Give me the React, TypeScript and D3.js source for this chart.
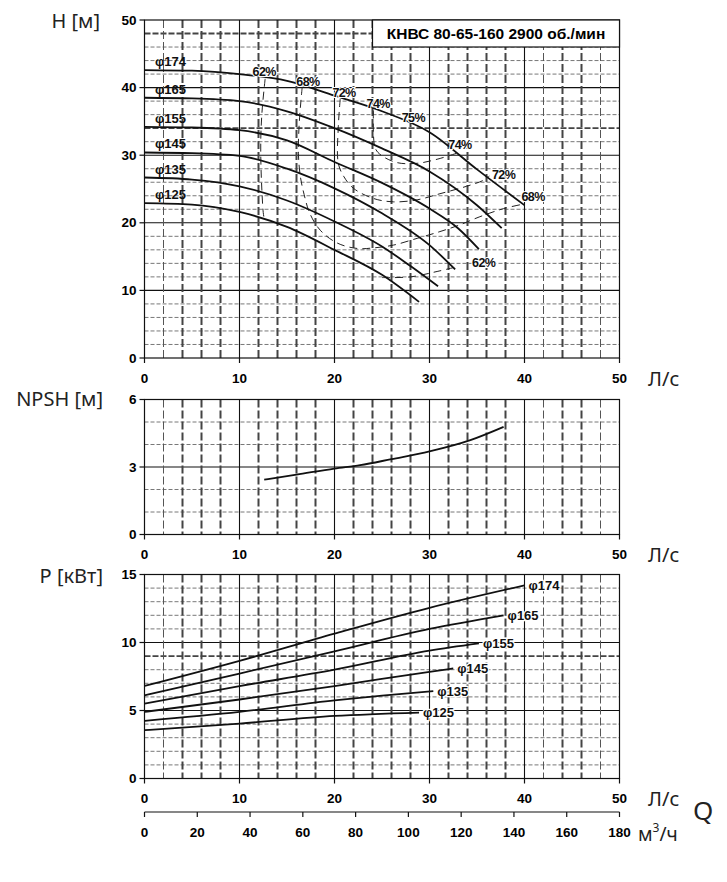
import React from "react"
import * as d3 from "d3"

// ---- data ----
const title = "КНВС 80-65-160 2900 об./мин"
const diameters = ["174", "165", "155", "145", "135", "125"]

// H(Q) head curves, [Q л/с, H м]
const headCurves: [number, number][][] = [
  [[0, 42.6], [5, 42.5], [10, 42.0], [15, 41.0], [20, 38.8], [25, 36.5], [30, 33.4], [35, 27.9], [40, 22.6]],
  [[0, 38.5], [5, 38.4], [10, 38.0], [15, 36.5], [20, 34.0], [25, 31.0], [30, 27.6], [35, 22.6], [37.6, 19.2]],
  [[0, 34.2], [5, 34.1], [10, 33.7], [15, 32.2], [20, 29.0], [25, 25.9], [30, 22.1], [33, 19.2], [35.2, 16.1]],
  [[0, 30.4], [5, 30.3], [10, 29.9], [15, 28.0], [20, 25.1], [25, 21.4], [30, 16.7], [32.7, 13.1]],
  [[0, 26.7], [5, 26.4], [10, 25.4], [15, 23.3], [20, 20.2], [25, 16.5], [28, 13.6], [30.9, 10.6]],
  [[0, 22.9], [5, 22.7], [10, 21.6], [15, 19.4], [20, 16.0], [25, 12.3], [28.9, 8.3]],
]

// iso-efficiency lines (dashed)
const effLines: [number, number][][] = [
  [[12.7, 41.3], [12.4, 37], [12.25, 33], [12.25, 29], [12.35, 25], [12.5, 21.5], [12.6, 20.6]],
  [[16.6, 40.1], [16.3, 35], [16.2, 30.3], [16.4, 26.9], [16.8, 24.2], [17.4, 21.4], [18.5, 18.9], [20.3, 17], [22.4, 16.2], [24.2, 16.3], [26.2, 16.7], [28.7, 17.7], [31.1, 18.7], [33.2, 19.7], [35.3, 20.9], [37.8, 22.1], [40, 22.8]],
  [[20.6, 38.3], [20.4, 34.2], [20.4, 28.8], [21, 26.8], [22, 25.1], [24.1, 23.6], [26.2, 23.1], [28.7, 23.4], [31.1, 24.3], [33.9, 25.4], [35.7, 26.3], [36.3, 26.9]],
  [[24.1, 36.6], [24.1, 33], [24.3, 31], [24.9, 30.0], [26.6, 28.9], [28.7, 28.8], [30.8, 29.4], [33.1, 30.4]],
  [[25, 11.9], [28, 12.0], [30.8, 12.8], [32.9, 13.5]],
]
const effLabels: { text: string; q: number; h: number }[] = [
  { text: "62%", q: 12.6, h: 42.3 },
  { text: "68%", q: 17.2, h: 40.8 },
  { text: "72%", q: 21.0, h: 39.2 },
  { text: "74%", q: 24.6, h: 37.6 },
  { text: "75%", q: 28.3, h: 35.5 },
  { text: "74%", q: 33.2, h: 31.5 },
  { text: "72%", q: 37.8, h: 27.1 },
  { text: "68%", q: 40.9, h: 23.8 },
  { text: "62%", q: 35.7, h: 14.1 },
]

// NPSH(Q)
const npshCurve: [number, number][] = [
  [12.6, 2.44], [16, 2.66], [20, 2.93], [22.7, 3.08], [26, 3.35], [30, 3.69], [34.3, 4.19], [37.8, 4.78],
]

// P(Q) power curves, [Q л/с, P кВт]
const powerCurves: [number, number][][] = [
  [[0, 6.8], [10, 8.65], [20, 10.65], [30, 12.55], [40, 14.2]],
  [[0, 6.12], [10, 7.72], [20, 9.35], [30, 11.0], [37.8, 12.0]],
  [[0, 5.51], [10, 6.79], [20, 8.0], [30, 9.4], [35.2, 9.93]],
  [[0, 4.9], [10, 5.81], [20, 6.8], [30, 7.84], [32.5, 8.09]],
  [[0, 4.24], [10, 4.9], [20, 5.75], [25, 6.1], [30.4, 6.42]],
  [[0, 3.55], [10, 4.04], [20, 4.6], [28.9, 4.85]],
]

const qTicks = [0, 10, 20, 30, 40, 50]
const m3hTicks = [0, 20, 40, 60, 80, 100, 120, 140, 160, 180]
const hTicks = [0, 10, 20, 30, 40, 50]
const npshTicks = [0, 3, 6]
const pTicks = [0, 5, 10, 15]
const thinCols = [2, 42, 48]

// ---- scales ----
const X0 = 144.5
const X1 = 619.5
const qScale = d3.scaleLinear().domain([0, 50]).range([X0, X1])
const m3hScale = d3.scaleLinear().domain([0, 180]).range([X0, X1])
const hScale = d3.scaleLinear().domain([0, 50]).range([358, 20])
const npshScale = d3.scaleLinear().domain([0, 6]).range([534.5, 399.5])
const pScale = d3.scaleLinear().domain([0, 15]).range([778.5, 574.5])

const tickFont = "'Liberation Sans', Arial, sans-serif"
const unitFont = "'Noto Sans', 'Open Sans', sans-serif"

type PanelProps = {
  y: d3.ScaleLinear<number, number>
  minor: number
  major: number
  ticks: number[]
  heavy?: number[]
}

const Panel: React.FC<PanelProps> = ({ y, minor, major, ticks, heavy = [] }) => {
  const [y0, yMax] = y.domain()
  const top = y(yMax)
  const bottom = y(y0)
  const rows = d3.range(y0 + minor, yMax, minor)
  const cols = d3.range(2, 50, 2)
  return (
    <g>
      {rows.map(v => {
        const isMajor = Math.abs(v / major - Math.round(v / major)) < 1e-6
        const isHeavy = heavy.includes(v)
        return (
          <line
            key={"r" + v}
            x1={X0}
            x2={X1}
            y1={y(v)}
            y2={y(v)}
            stroke={isMajor ? "#111" : isHeavy ? "#444" : "#555"}
            strokeWidth={isMajor ? 1.1 : isHeavy ? 1.8 : 0.8}
            strokeDasharray={isMajor ? undefined : isHeavy ? "6 2" : "4 2"}
          />
        )
      })}
      {cols.map(v => {
        const isMajor = v % 10 === 0
        const thin = thinCols.includes(v)
        return (
          <line
            key={"c" + v}
            x1={qScale(v)}
            x2={qScale(v)}
            y1={top}
            y2={bottom}
            stroke={isMajor ? "#111" : thin ? "#555" : "#444"}
            strokeWidth={isMajor ? 1.1 : thin ? 1 : 2}
            strokeDasharray={isMajor ? undefined : "8 3"}
          />
        )
      })}
      <rect x={X0} y={top} width={X1 - X0} height={bottom - top} fill="none" stroke="#111" strokeWidth={1.2} />
      {ticks.map(t => (
        <g key={"yt" + t}>
          <line x1={X0 - 5} x2={X0} y1={y(t)} y2={y(t)} stroke="#111" strokeWidth={1.2} />
          <text
            x={X0 - 8}
            y={y(t)}
            textAnchor="end"
            dominantBaseline="central"
            fontFamily={tickFont}
            fontWeight="bold"
            fontSize={13.5}
          >
            {t}
          </text>
        </g>
      ))}
      {qTicks.map(t => (
        <g key={"xt" + t}>
          <line x1={qScale(t)} x2={qScale(t)} y1={bottom} y2={bottom + 5} stroke="#111" strokeWidth={1.2} />
          <text
            x={qScale(t)}
            y={bottom + 20}
            textAnchor="middle"
            dominantBaseline="central"
            fontFamily={tickFont}
            fontWeight="bold"
            fontSize={13.5}
          >
            {t}
          </text>
        </g>
      ))}
      <text x={648} y={bottom + 20} dominantBaseline="central" fontFamily={unitFont} fontSize={20} fill="#222">
        Л/с
      </text>
    </g>
  )
}

export default function App() {
  const headLine = d3
    .line<[number, number]>()
    .x(d => qScale(d[0]))
    .y(d => hScale(d[1]))
    .curve(d3.curveMonotoneX)
  const effLine = d3
    .line<[number, number]>()
    .x(d => qScale(d[0]))
    .y(d => hScale(d[1]))
    .curve(d3.curveCatmullRom.alpha(0.5))
  const npshLine = d3
    .line<[number, number]>()
    .x(d => qScale(d[0]))
    .y(d => npshScale(d[1]))
    .curve(d3.curveMonotoneX)
  const powerLine = d3
    .line<[number, number]>()
    .x(d => qScale(d[0]))
    .y(d => pScale(d[1]))
    .curve(d3.curveMonotoneX)

  const m3hY = 812

  return (
    <svg
      width={727}
      height={882}
      style={{ position: "absolute", left: 0, top: 0, background: "#fff" }}
    >
      <rect width={727} height={882} fill="#fff" />

      {/* axis titles */}
      <text x={100} y={20} textAnchor="end" dominantBaseline="central" fontFamily={unitFont} fontSize={20} fill="#222">
        H [м]
      </text>
      <text x={103} y={398} textAnchor="end" dominantBaseline="central" fontFamily={unitFont} fontSize={20} fill="#222">
        NPSH [м]
      </text>
      <text x={103} y={575} textAnchor="end" dominantBaseline="central" fontFamily={unitFont} fontSize={20} fill="#222">
        P [кВт]
      </text>

      {/* head chart */}
      <Panel y={hScale} minor={2} major={10} ticks={hTicks} heavy={[34, 48]} />
      <rect x={372.5} y={20} width={X1 - 372.5} height={27} fill="#fff" stroke="#111" strokeWidth={1.2} />
      <text
        x={(372.5 + X1) / 2}
        y={33.5}
        textAnchor="middle"
        dominantBaseline="central"
        fontFamily={tickFont}
        fontWeight="bold"
        fontSize={15.5}
      >
        {title}
      </text>
      {effLines.map((pts, i) => (
        <path key={"e" + i} d={effLine(pts) || ""} fill="none" stroke="#222" strokeWidth={1} strokeDasharray="8 5" />
      ))}
      {headCurves.map((pts, i) => (
        <path key={"h" + i} d={headLine(pts) || ""} fill="none" stroke="#111" strokeWidth={1.8} />
      ))}
      {headCurves.map((pts, i) => (
        <text
          key={"hl" + i}
          x={qScale(1.1)}
          y={hScale(pts[0][1]) - 4}
          fontFamily={tickFont}
          fontWeight="bold"
          fontSize={13}
          fill="#111"
        >
          {"φ" + diameters[i]}
        </text>
      ))}
      {effLabels.map((l, i) => (
        <text
          key={"el" + i}
          x={qScale(l.q)}
          y={hScale(l.h)}
          textAnchor="middle"
          dominantBaseline="central"
          fontFamily={tickFont}
          fontWeight="bold"
          fontSize={12.5}
          letterSpacing={-0.6}
          fill="#111"
          stroke="#fff"
          strokeWidth={2}
          paintOrder="stroke"
        >
          {l.text}
        </text>
      ))}

      {/* NPSH chart */}
      <Panel y={npshScale} minor={1} major={3} ticks={npshTicks} />
      <path d={npshLine(npshCurve) || ""} fill="none" stroke="#111" strokeWidth={1.8} />

      {/* power chart */}
      <Panel y={pScale} minor={1} major={5} ticks={pTicks} heavy={[9]} />
      {powerCurves.map((pts, i) => (
        <path key={"p" + i} d={powerLine(pts) || ""} fill="none" stroke="#111" strokeWidth={1.8} />
      ))}
      {powerCurves.map((pts, i) => {
        const last = pts[pts.length - 1]
        return (
          <text
            key={"pl" + i}
            x={qScale(last[0]) + 4}
            y={pScale(last[1])}
            dominantBaseline="central"
            fontFamily={tickFont}
            fontWeight="bold"
            fontSize={13}
            fill="#111"
            stroke="#fff"
            strokeWidth={2.5}
            paintOrder="stroke"
          >
            {"φ" + diameters[i]}
          </text>
        )
      })}

      {/* m3/h axis */}
      <line x1={X0} x2={X1} y1={m3hY} y2={m3hY} stroke="#111" strokeWidth={1.2} />
      {m3hTicks.map(t => (
        <g key={"m" + t}>
          <line x1={m3hScale(t)} x2={m3hScale(t)} y1={m3hY} y2={m3hY + 5} stroke="#111" strokeWidth={1.2} />
          <text
            x={m3hScale(t)}
            y={m3hY + 20}
            textAnchor="middle"
            dominantBaseline="central"
            fontFamily={tickFont}
            fontWeight="bold"
            fontSize={13.5}
          >
            {t}
          </text>
        </g>
      ))}
      <text x={638} y={m3hY + 22} dominantBaseline="central" fontFamily={unitFont} fontSize={19} fill="#222">
        м<tspan fontSize={12} dy={-7}>3</tspan>
        <tspan dy={7}>/ч</tspan>
      </text>
      <text x={693} y={m3hY - 2} dominantBaseline="central" fontFamily={unitFont} fontSize={26} fill="#222">
        Q
      </text>
    </svg>
  )
}
